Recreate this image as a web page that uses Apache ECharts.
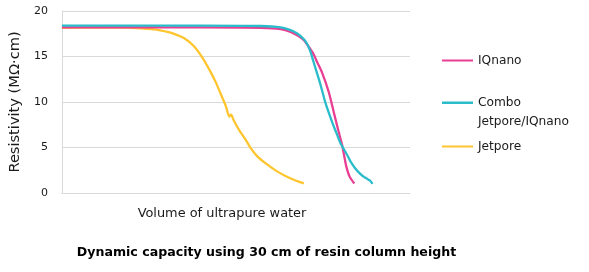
<!DOCTYPE html>
<html>
<head>
<meta charset="utf-8">
<script src="https://cdn.jsdelivr.net/npm/echarts@6/dist/echarts.min.js"></script>
<style>html,body{margin:0;padding:0;background:#fff}#c{width:589px;height:272px}</style>
</head>
<body>
<div id="c"></div>
<script>
// Volume axis is arbitrary (no tick labels in the original)
const seriesNames = ['IQnano', 'Combo\nJetpore/IQnano', 'Jetpore'];
const iqnanoX = [0, 140, 200, 220, 230, 237, 243.3, 248, 253.3, 257, 261.7, 268.3, 273.3, 278.3, 281.7, 284, 286, 289.3, 294];
const iqnanoY = [18.2, 18.2, 18.15, 18.0, 17.7, 17.3, 16.8, 16.1, 15.2, 14.3, 13.2, 11.1, 8.9, 6.7, 5.3, 4.0, 2.9, 1.8, 1.05];
const comboX = [0, 140, 200, 220, 230, 237, 243.3, 247, 250, 252.5, 255, 260, 265, 271.7, 276, 280, 286.7, 290, 295, 300, 303.3, 307, 310, 312.3];
const comboY = [18.4, 18.4, 18.35, 18.2, 17.9, 17.5, 16.9, 16.3, 15.5, 14.6, 13.7, 11.9, 9.9, 7.8, 6.6, 5.5, 4.2, 3.5, 2.7, 2.1, 1.8, 1.55, 1.35, 1.0];
const jetporeX = [0, 40, 70, 90, 100, 110, 123, 133, 141.7, 150, 155, 160, 165, 168.3, 170, 172.7, 178.3, 185, 190, 196.7, 205, 216.7, 230, 243.3];
const jetporeY = [18.15, 18.2, 18.15, 18.0, 17.85, 17.6, 17.0, 16.1, 14.8, 13.2, 12.1, 10.8, 9.5, 8.4, 8.6, 8.0, 6.9, 5.8, 4.9, 4.0, 3.25, 2.35, 1.6, 1.05];
const yTicks = [0, 5, 10, 15, 20];

const colors = ['#E83E93', '#2ABCCB', '#FFC52E'];
const pair = (xs, ys) => xs.map((x, i) => [x, ys[i]]);
const FONT = 'DejaVu Sans';

const chart = echarts.init(document.getElementById('c'), null, {renderer: 'canvas'});
const legendBase = (name, top, h, icon) => ({
  data: [name], left: 442, top: top, orient: 'vertical',
  icon: icon, itemWidth: 31, itemHeight: h, itemGap: 0,
  padding: 0, selectedMode: false,
  textStyle: {fontFamily: FONT, fontSize: 12.2, color: '#1a1a1a', lineHeight: 19}
});
chart.setOption({
  animation: false,
  color: colors,
  grid: {left: 60, right: 179, top: 11, bottom: 79},
  legend: [
    legendBase(seriesNames[0], 51, 2, 'rect'),
    legendBase(seriesNames[1], 93, 38, 'path://M0,8.6H31V11H0Z M0,37.9H0.05V38H0Z M0,0H0.05V0.05H0Z'),
    legendBase(seriesNames[2], 137, 2, 'rect')
  ],
  xAxis: {
    type: 'value', min: 0, max: 350,
    axisLabel: {show: false}, axisTick: {show: false},
    splitLine: {show: false},
    axisLine: {show: true, lineStyle: {color: '#d9d9d9'}}
  },
  yAxis: {
    type: 'value', min: 0, max: 20, interval: 5,
    name: 'Resistivity (MΩ·cm)', nameLocation: 'middle', nameGap: 32,
    nameTextStyle: {fontFamily: FONT, fontSize: 14.6, color: '#1a1a1a'},
    axisLabel: {fontFamily: FONT, fontSize: 11, color: '#1a1a1a', align: 'right', margin: 14,
      formatter: v => yTicks.includes(v) ? String(v) : ''},
    axisTick: {show: false},
    axisLine: {show: true, lineStyle: {color: '#d9d9d9'}},
    splitLine: {lineStyle: {color: '#d9d9d9'}}
  },
  graphic: [
    {type: 'text', style: {text: 'Volume of ultrapure water', fontFamily: FONT, fontSize: 12.9, fill: '#1a1a1a', textAlign: 'center', textVerticalAlign: 'middle'}, x: 222, y: 214},
    {type: 'text', style: {text: 'Dynamic capacity using 30 cm of resin column height', fontFamily: FONT, fontSize: 12.6, fontWeight: 'bold', fill: '#000', textAlign: 'center', textVerticalAlign: 'middle'}, x: 266.5, y: 253}
  ],
  series: [
    {name: seriesNames[0], type: 'line', data: pair(iqnanoX, iqnanoY), showSymbol: false, smooth: 0.25, lineStyle: {width: 2.3, color: colors[0]}, itemStyle: {color: colors[0]}, z: 3},
    {name: seriesNames[1], type: 'line', data: pair(comboX, comboY), showSymbol: false, smooth: 0.25, lineStyle: {width: 2.3, color: colors[1]}, itemStyle: {color: colors[1]}, z: 4},
    {name: seriesNames[2], type: 'line', data: pair(jetporeX, jetporeY), showSymbol: false, smooth: 0.25, lineStyle: {width: 2.3, color: colors[2]}, itemStyle: {color: colors[2]}, z: 2}
  ]
});
</script>
</body>
</html>
